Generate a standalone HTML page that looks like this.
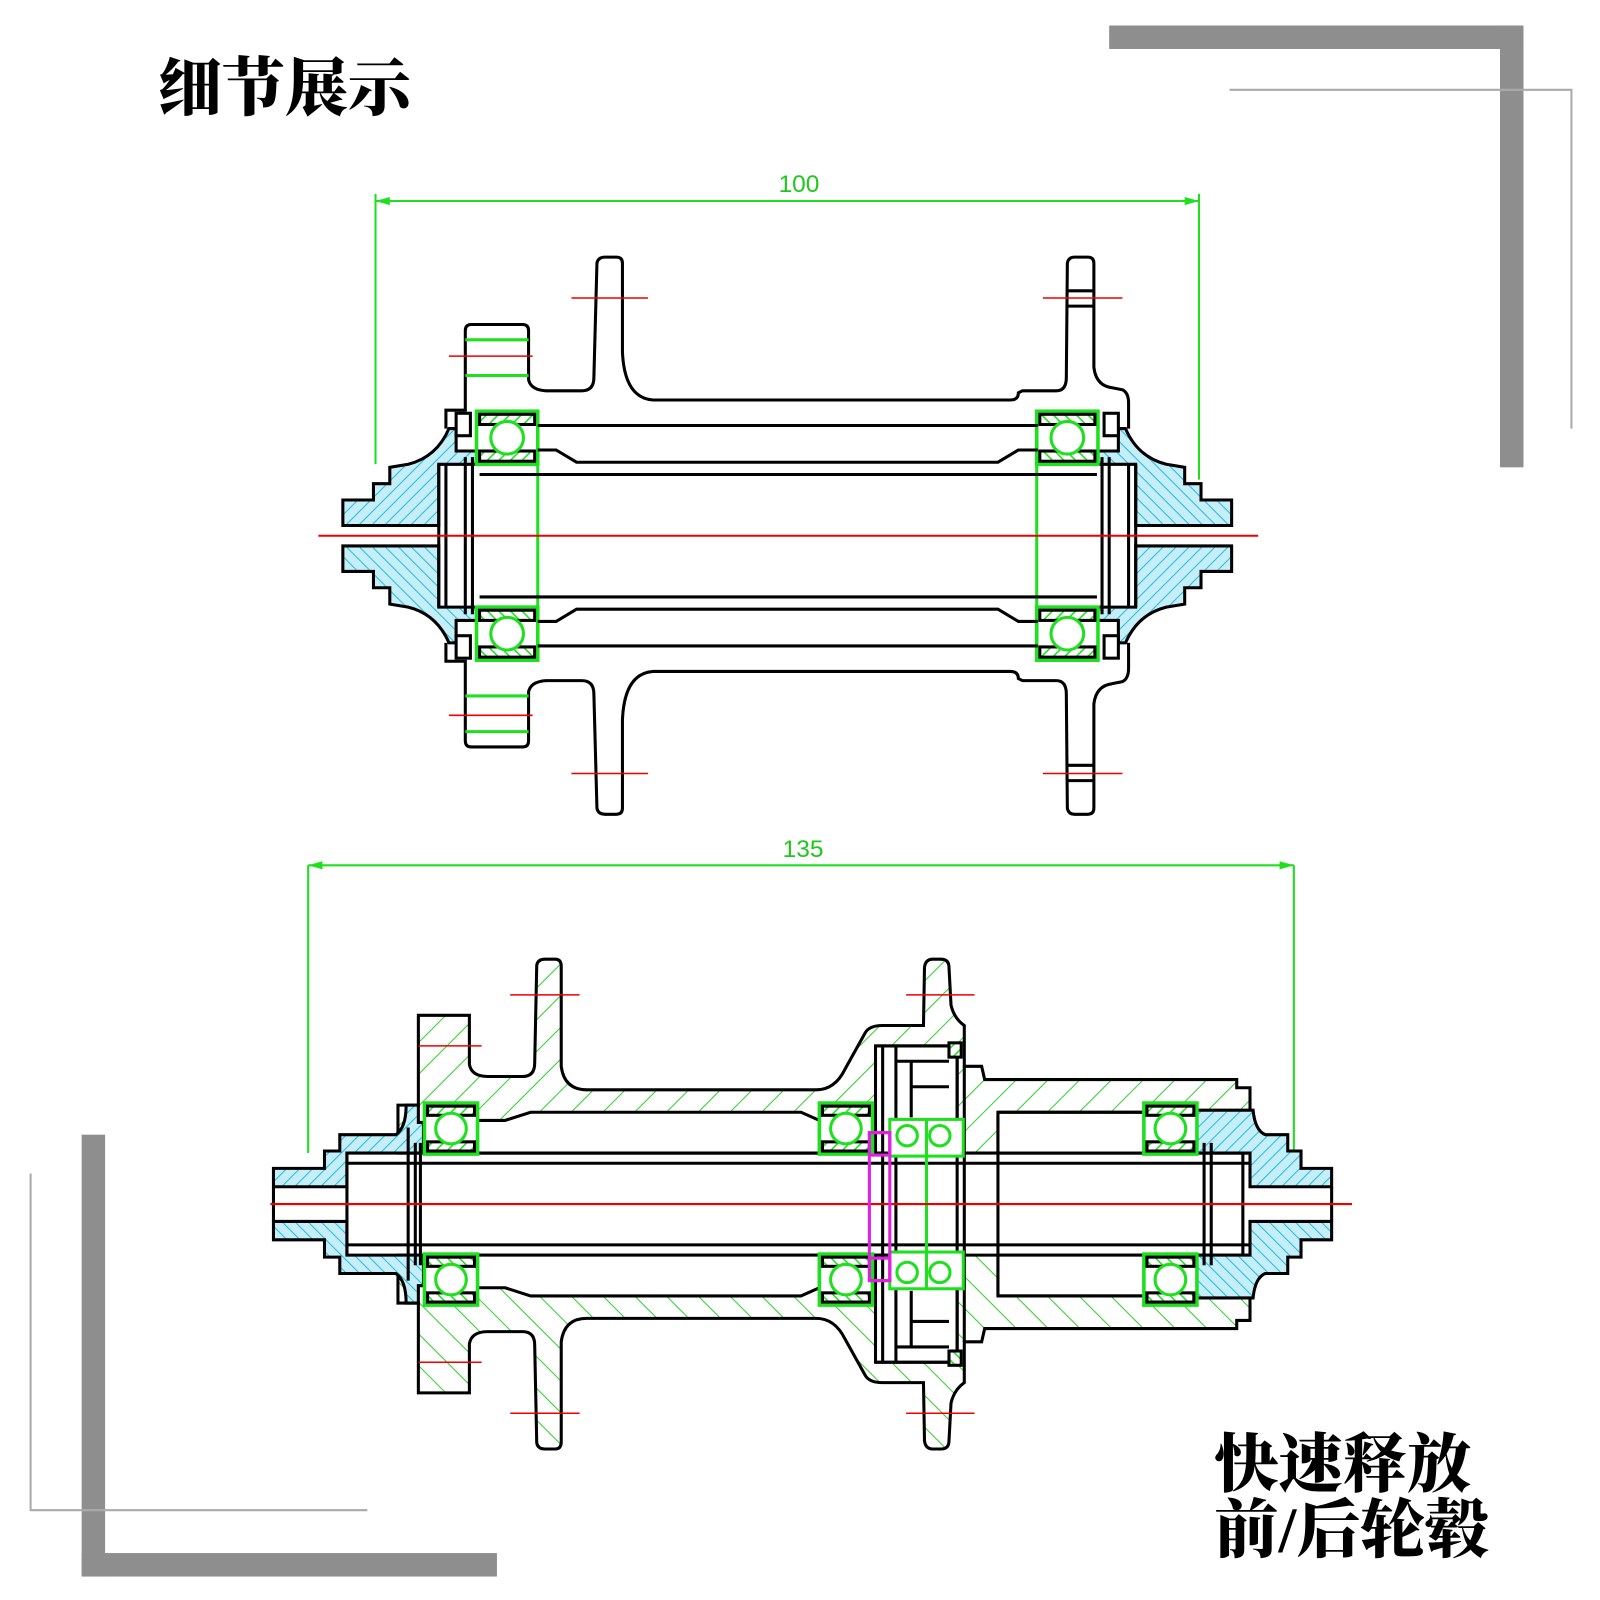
<!DOCTYPE html>
<html><head><meta charset="utf-8"><style>
html,body{margin:0;padding:0;background:#fff;width:1600px;height:1600px;overflow:hidden}
svg{display:block}
.cn{font-family:"Liberation Serif","Noto Serif CJK SC",serif;font-weight:900;fill:#000}
</style></head><body>
<svg width="1600" height="1600" viewBox="0 0 1568 1568" xmlns="http://www.w3.org/2000/svg">
<defs>
<pattern id="cy" width="9" height="9" patternUnits="userSpaceOnUse" patternTransform="rotate(45)">
<rect width="9" height="9" fill="#c6eef8"/><line x1="0" y1="0" x2="0" y2="9" stroke="#22bde0" stroke-width="2"/></pattern>
<pattern id="gh" width="22" height="22" patternUnits="userSpaceOnUse" patternTransform="rotate(45)">
<rect width="22" height="22" fill="#fff"/><line x1="0" y1="0" x2="0" y2="22" stroke="#2fd12f" stroke-width="2"/></pattern>
<pattern id="gs" width="8" height="8" patternUnits="userSpaceOnUse" patternTransform="rotate(45)">
<rect width="8" height="8" fill="#fff"/><line x1="0" y1="0" x2="0" y2="8" stroke="#1ee01e" stroke-width="3"/></pattern>
<g id="fcap"><path d="M336,490 L366,490 L366,474 L382,474 L382,458 L400,455 Q428,448 440,420 L447,420 L447,442 L470,442 L470,455 L430,455 L430,515 L336,515 Z" fill="url(#cy)" stroke="#000" stroke-width="3"/>
<rect x="447" y="405" width="14" height="22" fill="#fff" stroke="#000" stroke-width="3"/></g>
<g id="fbear"><rect x="467" y="403" width="60" height="52" fill="#fff" stroke="#1ee01e" stroke-width="3.5"/>
<rect x="470" y="406" width="54" height="10" fill="url(#gs)"/><rect x="470" y="442" width="54" height="10" fill="url(#gs)"/>
<circle cx="497" cy="429" r="16" fill="#fff" stroke="#1ee01e" stroke-width="3"/>
<line x1="527" y1="403" x2="527" y2="525" stroke="#1ee01e" stroke-width="3"/></g>
<g id="ftop" fill="none" stroke="#000" stroke-width="3">
<use href="#fcap"/><use href="#fcap" transform="translate(1543,0) scale(-1,1)"/>
<path d="M437,420 L437,402 L456,402 L456,324 Q456,318 462,318 L512,318 Q518,318 518,324 L518,372 Q520,382 535,383 L570,383 Q582,383 582,370 L585,258 Q586,252 593,252 L604,252 Q610,252 610,258 L610,345 Q612,390 640,392 L990,392 Q998,392 998,385 L1002,383 L1035,383 Q1045,383 1045,370 L1046,258 Q1047,252 1053,252 L1066,252 Q1072,252 1072,258 L1072,360 Q1074,378 1090,380 L1100,382 Q1106,385 1106,395 L1106,420"/>
<line x1="456" y1="333" x2="518" y2="333" stroke="#1ee01e"/><line x1="456" y1="368" x2="518" y2="368" stroke="#1ee01e"/>
<line x1="1046" y1="285" x2="1072" y2="285"/><line x1="1046" y1="300" x2="1072" y2="300"/>
<use href="#fbear"/><use href="#fbear" transform="translate(1543,0) scale(-1,1)"/>
<line x1="527" y1="417" x2="1017" y2="417"/>
<path d="M527,441 L545,441 L565,453 L978,453 L998,441 L1017,441"/>
<line x1="470" y1="465" x2="1075" y2="465"/>
<path d="M430,455 L430,525 M437,455 L437,525 M456,448 L456,525 M463,448 L463,525 M1113,455 L1113,525 M1106,455 L1106,525 M1087,448 L1087,525 M1080,448 L1080,525"/>
<line x1="560" y1="292" x2="635" y2="292" stroke="#e00" stroke-width="1.5"/>
<line x1="1022" y1="292" x2="1100" y2="292" stroke="#e00" stroke-width="1.5"/>
<line x1="440" y1="349" x2="522" y2="349" stroke="#e00" stroke-width="1.5"/>
</g>
<g id="rbear"><rect x="0" y="0" width="52" height="50" fill="#fff" stroke="#1ee01e" stroke-width="3.5"/>
<rect x="3" y="3" width="46" height="9" fill="url(#gs)"/><rect x="3" y="38" width="46" height="9" fill="url(#gs)"/>
<circle cx="26" cy="25" r="15" fill="#fff" stroke="#1ee01e" stroke-width="3"/></g>
<g id="rtop" stroke="#000" stroke-width="3">
<path d="M390,1107 L390,1083 L410,1083 L410,995 L460,995 L460,1043 Q462,1055 478,1055 L512,1055 Q524,1055 524,1042 L526,946 Q527,940 534,940 L544,940 Q550,940 550,947 L550,1045 Q553,1068 575,1068 L800,1068 Q818,1068 828,1048 L848,1012 Q852,1005 865,1005 L905,1005 L906,948 Q907,940 914,940 L922,940 Q930,940 930,948 L932,985 Q935,998 945,1005 L945,1045 L962,1045 L965,1058 L1212,1058 L1212,1066 L1225,1066 L1225,1130 L390,1130 Z" fill="url(#gh)"/>
<path d="M468,1130 L468,1098 L495,1098 L520,1090 L785,1090 L803,1098 L803,1130 Z" fill="#fff"/>
<rect x="858" y="1025" width="80" height="105" fill="#fff"/>
<rect x="978" y="1090" width="144" height="40" fill="#fff"/>
<path d="M1172,1080 L1172,1130" fill="none"/>
<path d="M268,1145 L318,1145 L318,1128 L333,1128 L333,1112 L388,1112 Q398,1105 398,1083 L410,1083 L410,1100 L415,1100 L415,1130 L340,1130 L340,1163 L268,1163 Z" fill="url(#cy)"/>
<path d="M1305,1145 L1275,1145 L1275,1128 L1262,1128 L1262,1112 L1240,1112 Q1230,1108 1228,1088 L1172,1088 L1172,1130 L1225,1130 L1225,1163 L1305,1163 Z" fill="url(#cy)"/>
<g fill="none">
<line x1="268" y1="1163" x2="268" y2="1180"/><line x1="1305" y1="1163" x2="1305" y2="1180"/>
<line x1="340" y1="1140" x2="1225" y2="1140"/>
<path d="M340,1130 L340,1180 M400,1105 L400,1180 M407,1120 L407,1180 M412,1120 L412,1180 M1180,1120 L1180,1180 M1187,1120 L1187,1180 M1218,1130 L1218,1180"/>
<path d="M865,1025 L865,1180 M878,1025 L878,1180 M893,1040 L893,1095 M938,1025 L938,1180 M945,1045 L945,1180 M858,1025 L938,1025 M878,1040 L930,1040 M893,1065 L930,1065 M978,1090 L978,1180 M978,1090 L1122,1090 M1122,1090 L1122,1130"/>
<rect x="930" y="1022" width="12" height="14" fill="url(#gs)"/>
<line x1="410" y1="1025" x2="472" y2="1025" stroke="#e00" stroke-width="1.5"/>
<line x1="500" y1="975" x2="568" y2="975" stroke="#e00" stroke-width="1.5"/>
<line x1="888" y1="975" x2="955" y2="975" stroke="#e00" stroke-width="1.5"/>
</g>
<use href="#rbear" transform="translate(416,1081)"/>
<use href="#rbear" transform="translate(803,1081)"/>
<use href="#rbear" transform="translate(1121,1081)"/>
<rect x="872" y="1097" width="72" height="36" fill="#fff" stroke="#1ee01e" stroke-width="3"/>
<circle cx="889" cy="1113" r="10" fill="#fff" stroke="#1ee01e" stroke-width="3"/>
<circle cx="921" cy="1113" r="10" fill="#fff" stroke="#1ee01e" stroke-width="3"/>
<path d="M908,1097 L908,1180" stroke="#1ee01e"/>
</g>
</defs>

<rect x="1087" y="25" width="406" height="23" fill="#8e8e8e"/>
<rect x="1470" y="25" width="23" height="433" fill="#8e8e8e"/>
<polyline points="1205,88 1540,88 1540,420" fill="none" stroke="#aaa" stroke-width="2"/>
<rect x="80" y="1112" width="23" height="433" fill="#8e8e8e"/>
<rect x="80" y="1522" width="407" height="23" fill="#8e8e8e"/>
<polyline points="30,1150 30,1480 360,1480" fill="none" stroke="#aaa" stroke-width="2"/>

<text x="155" y="108" class="cn" font-size="62">细节展示</text>
<text x="1190" y="1457" class="cn" font-size="63">快速释放</text>
<text x="1190" y="1521" class="cn" font-size="63">前/后轮毂</text>

<g stroke="#1ee01e" stroke-width="2" fill="#1ee01e">
<line x1="368" y1="197" x2="1175" y2="197"/><line x1="368" y1="190" x2="368" y2="455"/><line x1="1175" y1="190" x2="1175" y2="470"/>
<path d="M368,197 L382,193 L382,201 Z M1175,197 L1161,193 L1161,201 Z" stroke="none"/>
<line x1="302" y1="848" x2="1268" y2="848"/><line x1="302" y1="848" x2="302" y2="1130"/><line x1="1268" y1="848" x2="1268" y2="1140"/>
<path d="M302,848 L316,844 L316,852 Z M1268,848 L1254,844 L1254,852 Z" stroke="none"/>
</g>
<text x="783" y="188" text-anchor="middle" font-family="Liberation Sans,sans-serif" font-size="24" fill="#1ec81e">100</text>
<text x="787" y="840" text-anchor="middle" font-family="Liberation Sans,sans-serif" font-size="24" fill="#1ec81e">135</text>

<use href="#ftop"/>
<use href="#ftop" transform="translate(0,1050) scale(1,-1)"/>
<line x1="312" y1="525" x2="1233" y2="525" stroke="#e00" stroke-width="2"/>

<use href="#rtop"/>
<use href="#rtop" transform="translate(0,2360) scale(1,-1)"/>
<line x1="265" y1="1180" x2="1325" y2="1180" stroke="#e00" stroke-width="2"/>
<rect x="852" y="1110" width="20" height="145" fill="none" stroke="#e020e0" stroke-width="3"/>
<rect x="852" y="1110" width="20" height="22" fill="none" stroke="#e020e0" stroke-width="3"/>
<rect x="852" y="1233" width="20" height="22" fill="none" stroke="#e020e0" stroke-width="3"/>
</svg>
</body></html>
